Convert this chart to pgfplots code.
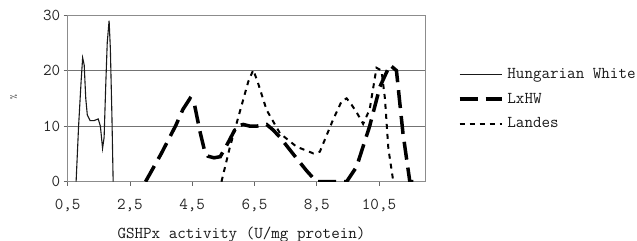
\documentclass[border=0pt]{standalone}
\usepackage{fontspec}
\usepackage{pgfplots}
\pgfplotsset{compat=1.18}
\begin{document}
\begin{tikzpicture}[font=\ttfamily\fontsize{16.6bp}{20bp}\selectfont]
\useasboundingbox (-67.7bp,-59.3bp) rectangle (569.3bp,181.7bp);
\begin{axis}[
  at={(0,0)}, anchor=south west,
  scale only axis, width=358bp, height=166.7bp,
  xmin=0.5, xmax=12, ymin=0, ymax=30,
  xtick={0.5,2.5,4.5,6.5,8.5,10.5},
  xticklabels={{0,5},{2,5},{4,5},{6,5},{8,5},{10,5}},
  ytick={0,10,20,30},
  /pgf/number format/assume math mode=true,
  ymajorgrids, grid style={black!55, line width=0.8bp},
  axis line style={black!45, line width=0.8bp},
  tick style={black!60, line width=0.8bp},
  tick align=outside, major tick length=4bp,
  xtick pos=bottom, ytick pos=left,
  ticklabel style={font=\ttfamily\fontsize{16.6bp}{20bp}\selectfont, text=black!85},
  xticklabel style={yshift=-10bp},
  xlabel={GSHPx activity (U/mg protein)},
  xlabel style={at={(axis description cs:0.4855,0)}, anchor=base, yshift=-56.5bp, text=black!90},
  ylabel={\%},
  ylabel style={at={(axis description cs:-0.151,0.505)}, anchor=center, font=\ttfamily\fontsize{9bp}{10bp}\selectfont, text=black!70},
  legend style={at={(axis description cs:1.0894,0.496)}, anchor=west, draw=none, fill=none,
     inner sep=0pt, row sep=9bp, column sep=2bp,
     font=\ttfamily\fontsize{16.6bp}{20bp}\selectfont, text=black!90},
  legend cell align=left,
  legend image code/.code={\draw[#1] (0bp,0bp) -- (42bp,0bp);},
]
\addplot[black!90, line width=1.1bp] coordinates {
 (0.77,0) (0.85,10) (0.93,18) (0.98,22.3) (1.03,21) (1.08,15) (1.13,12) (1.22,11)
 (1.35,11) (1.48,11.3) (1.55,10) (1.62,6) (1.67,8) (1.72,17) (1.77,25) (1.83,29)
 (1.87,24) (1.92,12) (1.96,0)};
\addlegendentry{Hungarian White}
\addplot[black, line width=3.5bp, dash pattern=on 18bp off 8bp] coordinates {
 (3.0,0) (3.5,5) (3.97,10.1) (4.2,13) (4.43,15) (4.55,14.5) (4.75,9) (4.9,5.5) (5.0,4.6)
 (5.2,4.3) (5.4,4.5) (5.65,7) (5.93,10) (6.14,10.3) (6.35,10) (6.57,10) (6.89,10.3)
 (7.1,9.3) (7.32,8) (7.74,5) (8.17,2) (8.49,0) (9.46,0) (9.78,2.7) (10.2,10) (10.53,17.1)
 (10.85,21) (11.06,20) (11.27,8.7) (11.49,0) (11.6,0)};
\addlegendentry{LxHW}
\addplot[black, line width=2bp, dash pattern=on 5bp off 5bp] coordinates {
 (5.44,0) (5.7,6) (6.0,12) (6.3,18) (6.46,20.1) (6.6,18) (6.89,12.9) (7.32,8.7) (7.85,6.3)
 (8.39,5.1) (8.6,5.4) (9.02,11.1) (9.3,14.5) (9.46,15) (9.6,14) (9.78,12.5) (9.99,10.4)
 (10.2,13) (10.42,20.5) (10.58,20) (10.69,15) (10.8,6) (10.96,0)};
\addlegendentry{Landes}
\end{axis}
\end{tikzpicture}
\end{document}
